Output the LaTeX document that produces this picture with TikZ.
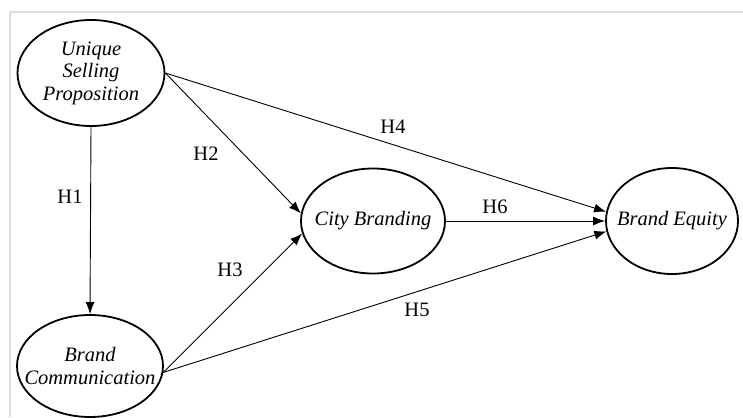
\documentclass[tikz,border=0pt]{standalone}
\usepackage{fontspec}
\setmainfont{Liberation Serif}
\usetikzlibrary{shapes.geometric,arrows.meta}
\begin{document}
\begin{tikzpicture}[x=1pt,y=-1pt,
  construct/.style={draw=black,line width=1.8pt,ellipse,inner ysep=0pt,inner xsep=-18pt,
    font=\fontsize{20.5}{22.5}\selectfont\itshape,align=center},
  path/.style={draw=black,line width=0.9pt,-{Latex[length=12pt,width=9pt]}},
  hlabel/.style={font=\fontsize{20.5}{22}\selectfont,inner sep=0pt}]
\useasboundingbox (0,0) rectangle (743,417);
\draw[color=black!13,line width=2pt] (10,417) -- (10,12) -- (743,12);
\node[construct,minimum width=147pt,minimum height=106pt] (usp) at (91,73) {Unique\\Selling\\Proposition};
\node[construct,minimum width=146pt,minimum height=102pt] (bc) at (90,366) {Brand\\Communication};
\node[construct,minimum width=144pt,minimum height=105pt] (cb) at (373,221) {City Branding};
\node[construct,minimum width=132pt,minimum height=106pt] (be) at (672,221) {Brand Equity};
\draw[path] (usp.south) -- (bc.north);
\draw[path] (usp.0) -- (cb.174);
\draw[path] (usp.0) -- (be.172);
\draw[path] (bc.-5) -- (cb.190);
\draw[path] (bc.-5) -- (be.189);
\draw[path] (cb.east) -- (be.west);
\node[hlabel] (h1) at (70,197) {H1};
\node[hlabel] (h2) at (206,154) {H2};
\node[hlabel] (h3) at (230,270) {H3};
\node[hlabel] (h4) at (393,127) {H4};
\node[hlabel] (h5) at (417,310) {H5};
\node[hlabel] (h6) at (495,207) {H6};
\end{tikzpicture}
\end{document}
